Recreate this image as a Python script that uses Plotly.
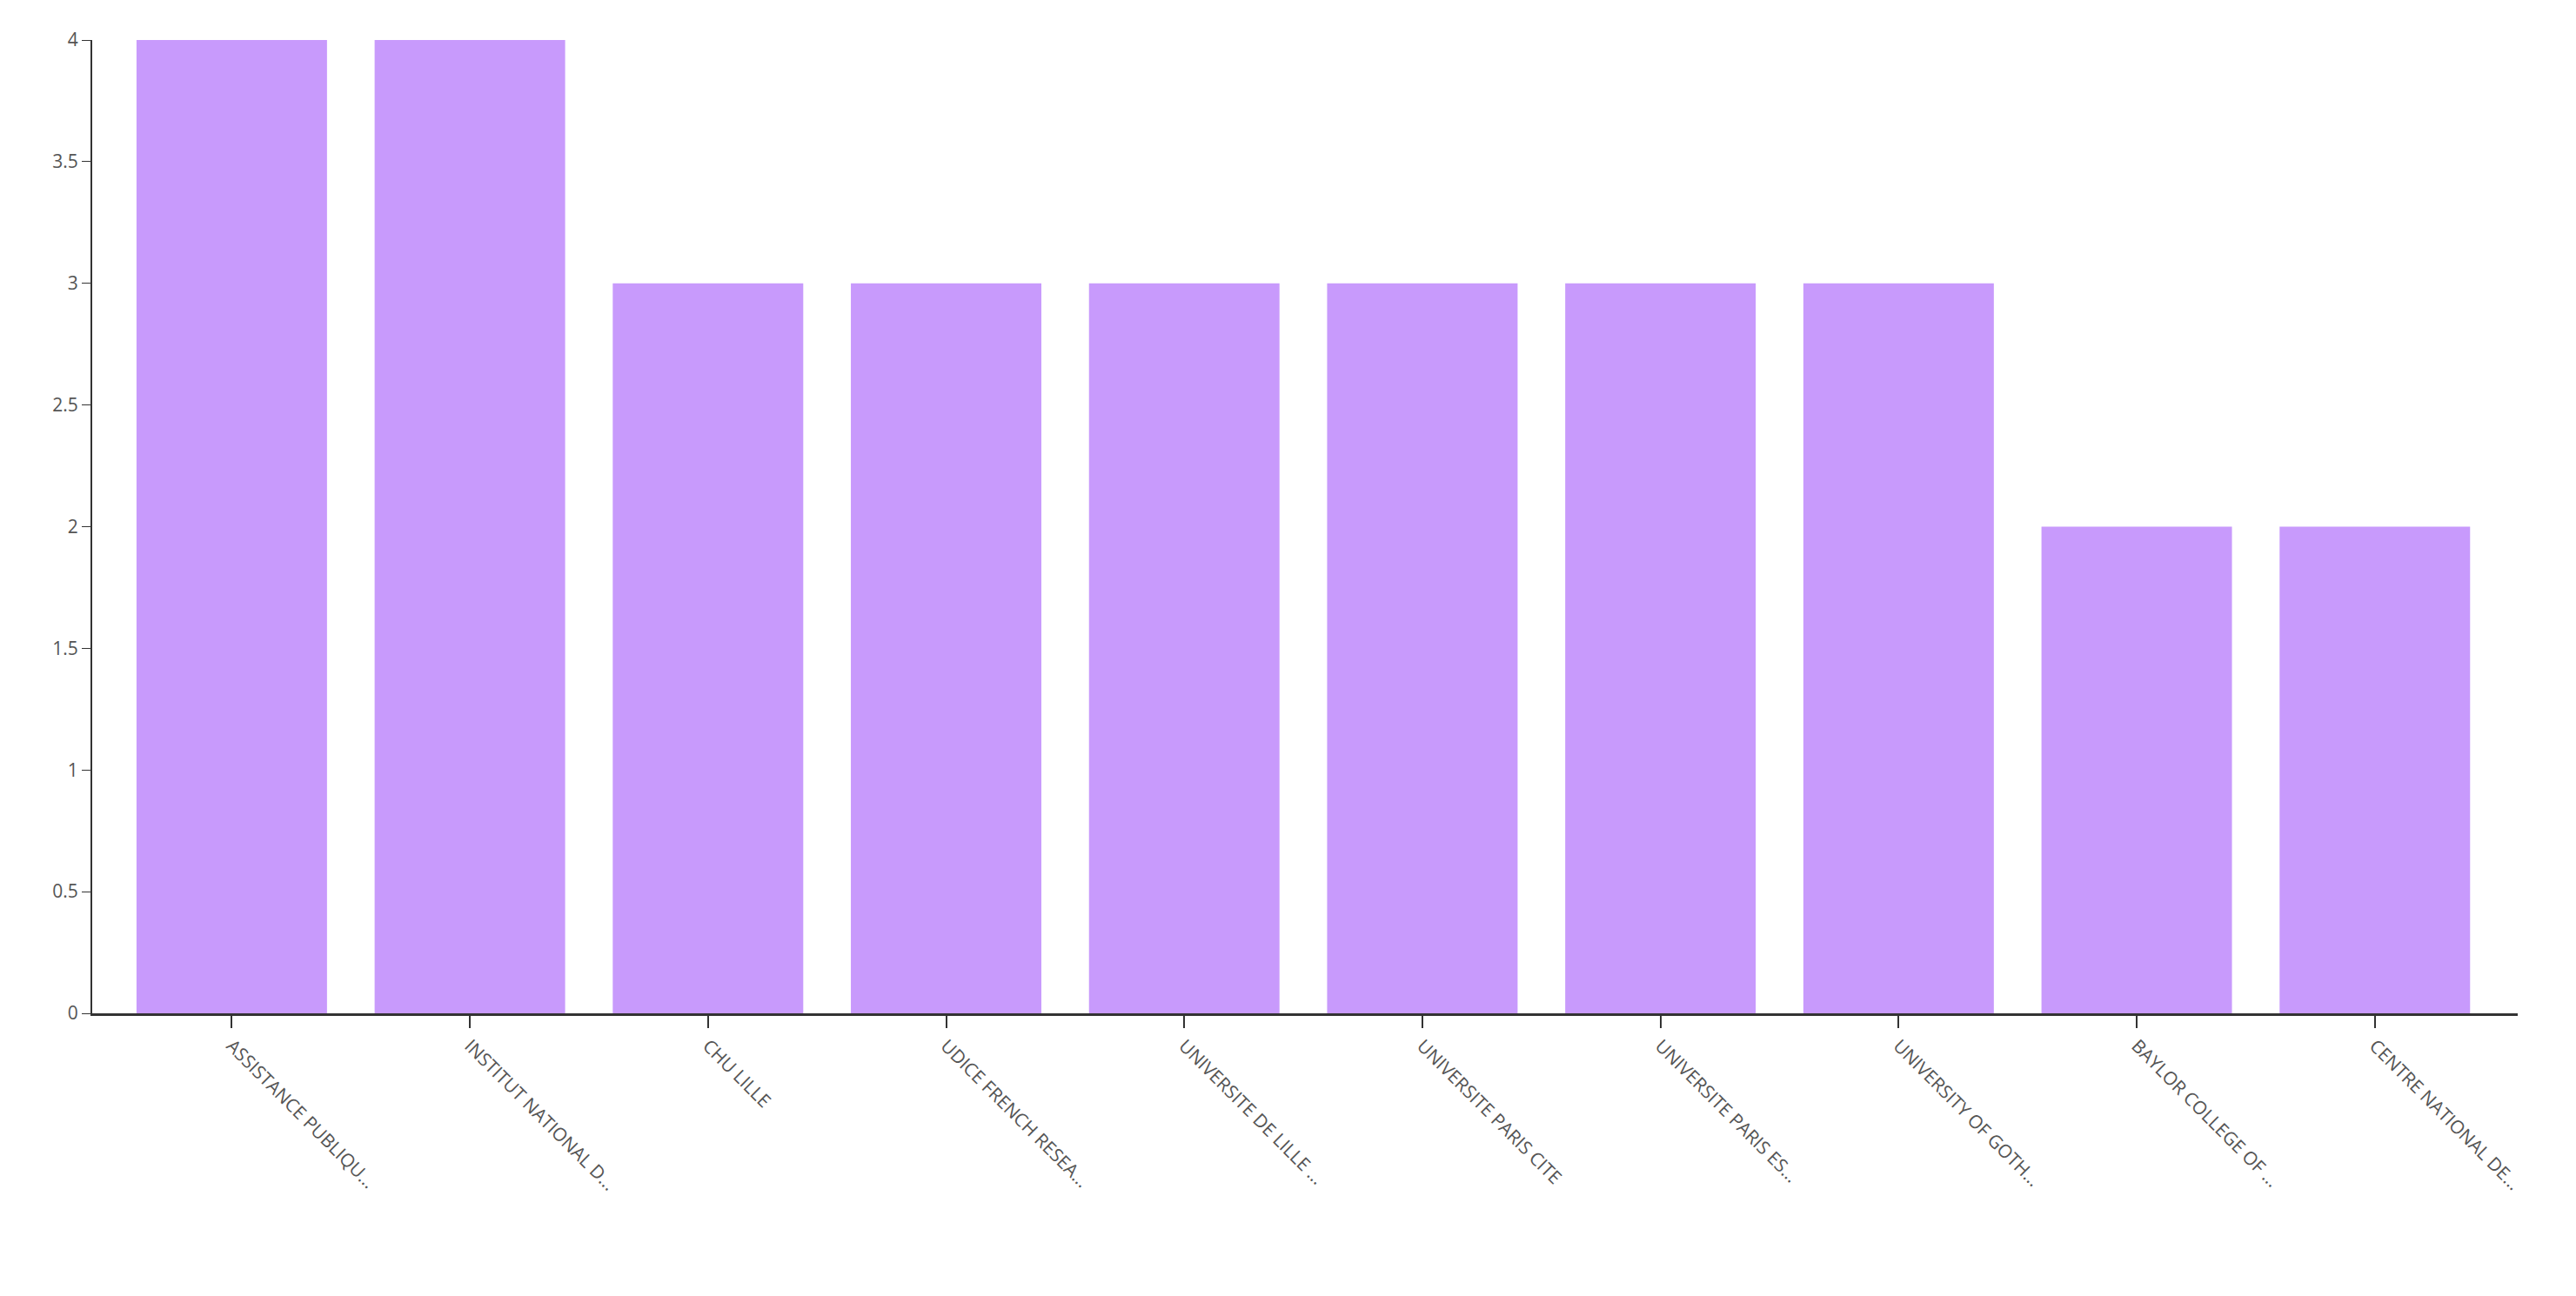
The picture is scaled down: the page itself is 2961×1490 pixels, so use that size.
import plotly.graph_objects as go

categories = ["ASSISTANCE PUBLIQU...", "INSTITUT NATIONAL D...", "CHU LILLE", "UDICE FRENCH RESEA...",
              "UNIVERSITE DE LILLE ...", "UNIVERSITE PARIS CITE", "UNIVERSITE PARIS ES...",
              "UNIVERSITY OF GOTH...", "BAYLOR COLLEGE OF ...", "CENTRE NATIONAL DE..."]
values = [4, 4, 3, 3, 3, 3, 3, 3, 2, 2]

fig = go.Figure(go.Bar(x=categories, y=values, marker_color="#c89afc", marker_line_width=0))
fig.update_layout(
    width=2961, height=1490, margin=dict(l=98, r=75, t=38, b=333),
    plot_bgcolor="white", paper_bgcolor="white", bargap=0.2, showlegend=False,
    font=dict(family="Open Sans", color="#555", size=21),
)
fig.update_xaxes(range=[-0.586, 9.6], tickangle=45, showline=True, linecolor="#333", linewidth=3,
                 ticks="outside", ticklen=14, tickcolor="#333", tickwidth=2, showgrid=False)
fig.update_yaxes(range=[0, 4], dtick=0.5, showline=True, linecolor="#333", linewidth=2,
                 ticks="outside", ticklen=10, tickcolor="#333", showgrid=False, zeroline=False)
fig.write_html("out.html")
